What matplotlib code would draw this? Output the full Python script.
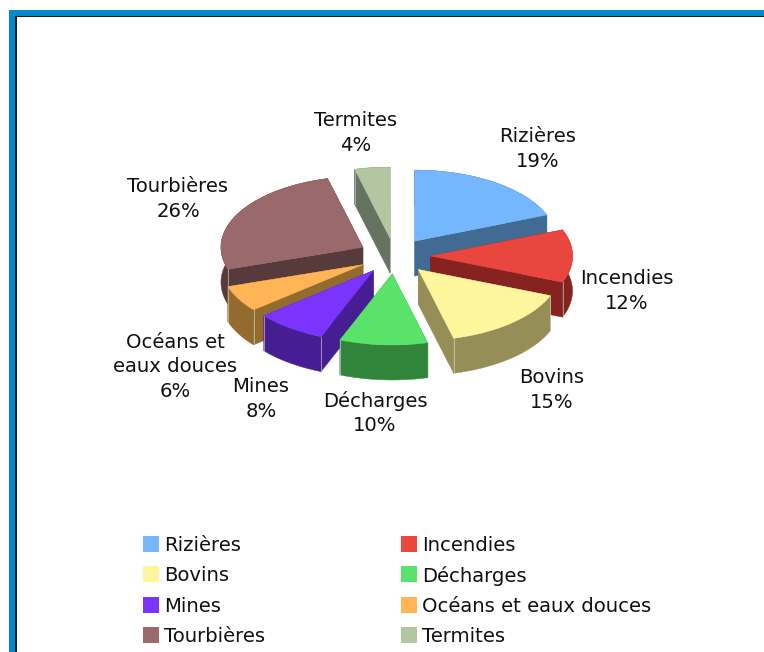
#import modules
import numpy as np
import matplotlib
matplotlib.use('Agg')
import matplotlib.pyplot as plt
from matplotlib.patches import Polygon, Rectangle

#data
names = ['Rizières', 'Incendies', 'Bovins', 'Décharges', 'Mines',
         'Océans et eaux douces', 'Tourbières', 'Termites']
label_names = ['Rizières', 'Incendies', 'Bovins', 'Décharges', 'Mines',
               'Océans et\neaux douces', 'Tourbières', 'Termites']
shares = [19, 12, 15, 10, 8, 6, 26, 4]

#colours of the top faces and of the sides
top_colors = ['#74B7FF', '#E8463F', '#FFF59D', '#5AE36A', '#7B33FF',
              '#FFB455', '#99696B', '#B1C6A1']
side_colors = ['#426B93', '#862220', '#958E57', '#30853B', '#471D93',
               '#936B2F', '#563A3C', '#667360']

#label centres in pixels
label_xy = [(538, 149), (627, 291), (552, 390), (375, 413), (261, 399),
            (175, 367), (178, 199), (356, 133)]

#pie geometry in pixels
cx, cy = 394.5, 256
rx, ry = 142, 71
explode = 36
depth = 35

fig = plt.figure(figsize=(7.64, 6.52), dpi=100)
ax = fig.add_axes([0, 0, 1, 1])
ax.set_xlim(0, 764)
ax.set_ylim(652, 0)
ax.axis('off')

#frame round the page
ax.add_patch(Rectangle((9, 10), 755, 642, color='#008ACD', lw=0))
ax.add_patch(Rectangle((15, 16), 749, 636, color='#1A1A1A', lw=0))
ax.add_patch(Rectangle((16.7, 17.3), 748, 636, color='white', lw=0))

def point(theta, x0, y0):
    return x0 + rx*np.sin(theta), y0 - ry*np.cos(theta)

#work out the slices, the explode offset is squashed like the ellipse
edges = np.radians(np.cumsum([0] + shares) * 3.6)
slices = []
for i in range(len(shares)):
    t0, t1 = edges[i], edges[i+1]
    mid = (t0 + t1) / 2
    x0 = cx + explode*np.sin(mid)
    y0 = cy - explode*np.cos(mid)*ry/rx
    slices.append((y0, x0, t0, t1, i))

#back slices first so the front ones overlap them
for y0, x0, t0, t1, i in sorted(slices):
    theta = np.linspace(t0, t1, 80)
    ax_x, ax_y = point(theta, x0, y0)

    #straight cut faces
    for t in (t0, t1):
        px, py = point(t, x0, y0)
        ax.add_patch(Polygon([(x0, y0), (px, py), (px, py+depth), (x0, y0+depth)],
                             fc=side_colors[i], ec=side_colors[i], lw=0.3))

    #outer wall
    wall = list(zip(ax_x, ax_y)) + list(zip(ax_x[::-1], ax_y[::-1] + depth))
    ax.add_patch(Polygon(wall, fc=side_colors[i], ec=side_colors[i], lw=0.3))

    #light line on the wall corners
    for t in (t0, t1):
        px, py = point(t, x0, y0)
        ax.plot([px, px], [py, py+depth], color='#D8D8D8', lw=0.6, alpha=0.7, zorder=1)

    #top face
    top = [(x0, y0)] + list(zip(ax_x, ax_y))
    ax.add_patch(Polygon(top, fc=top_colors[i], ec=top_colors[i], lw=0.3))

#slice labels
font = 'DejaVu Sans'
for i in range(len(shares)):
    ax.text(label_xy[i][0], label_xy[i][1], label_names[i] + '\n' + str(shares[i]) + '%',
            ha='center', va='center', fontsize=14.1, family=font, color='#111111',
            linespacing=1.38)

#legend, two columns
legend_x = [143, 401]
legend_y = [536, 566, 597, 627]
for i in range(len(names)):
    lx = legend_x[i % 2]
    ly = legend_y[i // 2]
    ax.add_patch(Rectangle((lx, ly), 16, 16, color=top_colors[i], lw=0))
    ax.text(lx + 21, ly + 9.5, names[i], ha='left', va='center', fontsize=14.1,
            family=font, color='#111111')

plt.savefig('out.png', dpi=100)
